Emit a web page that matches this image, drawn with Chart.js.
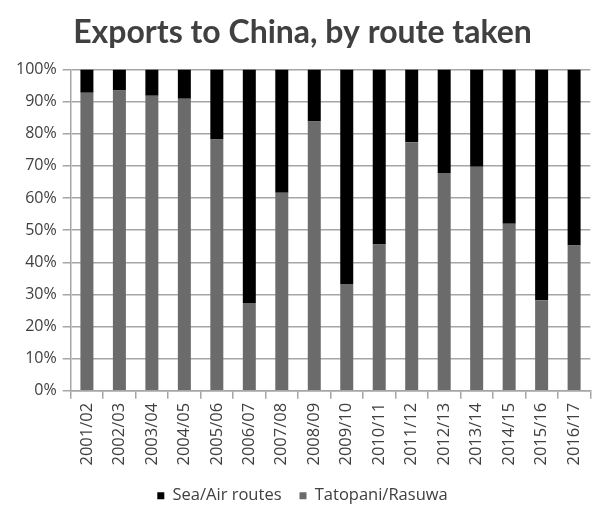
<!DOCTYPE html>
<html lang="en">
<head>
  <meta charset="UTF-8" />
  <title>Exports to China, by route taken</title>
  <script src="https://cdn.jsdelivr.net/npm/chart.js"></script>
  <style>
    html, body { margin: 0; padding: 0; background: #fff; }
    .wrap { width: 598px; height: 514px; }
  </style>
</head>
<body>
  <div class="wrap">
    <canvas id="routeChart" width="598" height="514"></canvas>
  </div>

  <script>
    // fiscal years
    const years = ['2001/02', '2002/03', '2003/04', '2004/05', '2005/06', '2006/07', '2007/08', '2008/09',
                   '2009/10', '2010/11', '2011/12', '2012/13', '2013/14', '2014/15', '2015/16', '2016/17'];

    // share of exports through the land border points (%)
    const landShare = [92.7, 93.4, 91.8, 90.9, 78.2, 27.3, 61.6, 83.8,
                       33.2, 45.5, 77.3, 67.8, 69.7, 52.0, 28.2, 45.2];

    // share of exports by sea or air (%)
    const seaAirShare = [7.3, 6.6, 8.2, 9.1, 21.8, 72.7, 38.4, 16.2,
                         66.8, 54.5, 22.7, 32.2, 30.3, 48.0, 71.8, 54.8];

    const yTicks = [0, 10, 20, 30, 40, 50, 60, 70, 80, 90, 100];

    const fontFamily = "'Open Sans', 'DejaVu Sans', sans-serif";
    const gridGrey = '#a6a6a6';

    new Chart(document.getElementById('routeChart'), {
      type: 'bar',
      data: {
        labels: years,
        datasets: [
          {
            label: 'Tatopani/Rasuwa',
            data: landShare,
            backgroundColor: '#6b6b6b',
            barPercentage: 0.4,
            categoryPercentage: 1.0
          },
          {
            label: 'Sea/Air routes',
            data: seaAirShare,
            backgroundColor: '#000000',
            barPercentage: 0.4,
            categoryPercentage: 1.0
          }
        ]
      },
      options: {
        responsive: false,
        animation: false,
        layout: { padding: { left: 10, right: 3, top: 0, bottom: 0 } },
        plugins: {
          title: {
            display: true,
            text: 'Exports to China, by route taken',
            color: '#404040',
            font: { family: "Lato, 'DejaVu Sans', sans-serif", size: 32, weight: 'bold' },
            padding: { top: 13, bottom: 18 }
          },
          legend: {
            position: 'bottom',
            reverse: true,
            labels: {
              color: '#404040',
              font: { family: fontFamily, size: 16.5 },
              usePointStyle: true,
              pointStyle: 'rect',
              boxWidth: 7,
              boxHeight: 7,
              padding: 18
            }
          },
          tooltip: { enabled: false }
        },
        scales: {
          x: {
            stacked: true,
            grid: {
              display: true,
              offset: true,
              drawOnChartArea: false,
              color: gridGrey,
              tickLength: 8,
              lineWidth: 1.5
            },
            border: { color: gridGrey, width: 1.5 },
            ticks: {
              color: '#404040',
              font: { family: fontFamily, size: 16.5 },
              minRotation: 90,
              maxRotation: 90,
              padding: 4
            }
          },
          y: {
            stacked: true,
            min: 0,
            max: 100,
            afterBuildTicks: axis => { axis.ticks = yTicks.map(v => ({ value: v })); },
            grid: {
              color: gridGrey,
              lineWidth: 1.5,
              tickLength: 8
            },
            border: { color: gridGrey, width: 1.5 },
            ticks: {
              color: '#404040',
              font: { family: fontFamily, size: 16 },
              padding: 6,
              callback: value => value + '%'
            }
          }
        }
      }
    });
  </script>
</body>
</html>
